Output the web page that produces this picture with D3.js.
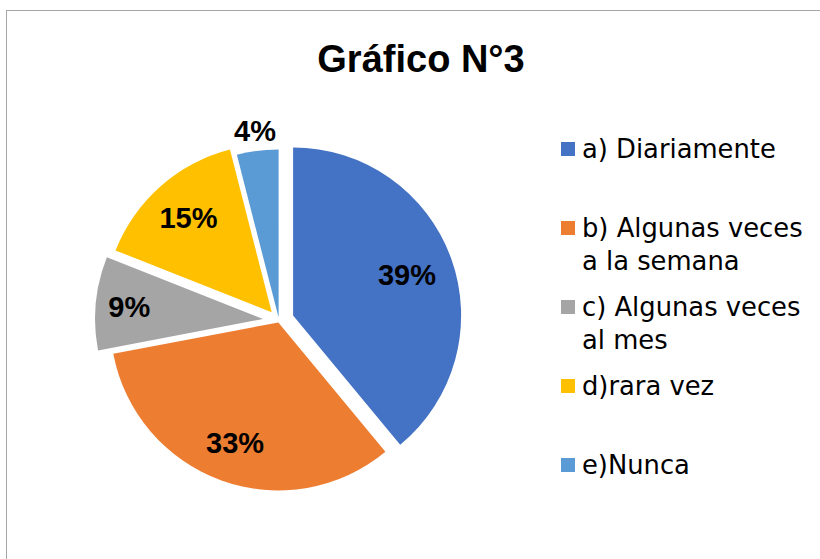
<!DOCTYPE html>
<html>
<head>
<meta charset="utf-8">
<script src="https://cdn.jsdelivr.net/npm/d3@7"></script>
<style>
  html, body { margin: 0; padding: 0; background: #fff; }
  svg { display: block; }
</style>
</head>
<body>
<svg id="chart" width="820" height="559"></svg>
<script>
// ---- data ----
const title = "Gráfico N°3";
const categories = ["a) Diariamente", "b) Algunas veces a la semana", "c) Algunas veces al mes", "d)rara vez", "e)Nunca"];
const legendLines = [["a) Diariamente"], ["b) Algunas veces", "a la semana"], ["c) Algunas veces", "al mes"], ["d)rara vez"], ["e)Nunca"]];
const values = [39, 33, 9, 15, 4];
const labels = ["39%", "33%", "9%", "15%", "4%"];

// ---- style / layout ----
const colors = ["#4472C4", "#ED7D31", "#A5A5A5", "#FFC000", "#5B9BD5"];
const explode = [15, 2, 16, 11, 3];
const labelFrac = [0.72, 0.76, 0.80, 0.75, 1.12];
const cx = 279, cy = 320.5, R = 168;

const svg = d3.select("#chart");

// frame
svg.append("rect").attr("x", 6.5).attr("y", 10.5).attr("width", 900).attr("height", 900)
  .attr("fill", "#fff").attr("stroke", "#a6a6a6").attr("stroke-width", 1);

// title
svg.append("text").attr("x", 421).attr("y", 72).attr("text-anchor", "middle")
  .attr("font-family", "'Liberation Sans', Arial, sans-serif").attr("font-weight", "bold")
  .attr("font-size", 38).attr("fill", "#000").text(title);

const pie = d3.pie().sort(null).value(d => d)(values);
const arc = d3.arc().innerRadius(0).outerRadius(R);

const g = svg.append("g").attr("transform", `translate(${cx},${cy})`);

const slices = g.selectAll("g.slice").data(pie).enter().append("g").attr("class", "slice")
  .attr("transform", (d, i) => {
    const a = (d.startAngle + d.endAngle) / 2;
    return `translate(${explode[i] * Math.sin(a)},${-explode[i] * Math.cos(a)})`;
  });

slices.append("path").attr("d", arc).attr("fill", (d, i) => colors[i]);

slices.append("text")
  .attr("x", (d, i) => { const a = (d.startAngle + d.endAngle) / 2; return R * labelFrac[i] * Math.sin(a); })
  .attr("y", (d, i) => { const a = (d.startAngle + d.endAngle) / 2; return -R * labelFrac[i] * Math.cos(a); })
  .attr("dy", "0.36em")
  .attr("text-anchor", "middle")
  .attr("font-family", "'Liberation Sans', Arial, sans-serif").attr("font-weight", "bold")
  .attr("font-size", 29).attr("fill", "#000")
  .text((d, i) => labels[i]);

// legend
const legendY = d3.scalePoint().domain(d3.range(categories.length)).range([142, 458]);
const leg = svg.append("g");
const items = leg.selectAll("g").data(categories).enter().append("g")
  .attr("transform", (d, i) => `translate(561,${legendY(i)})`);
items.append("rect").attr("width", 14).attr("height", 14).attr("fill", (d, i) => colors[i]);
items.each(function(d, i) {
  const t = d3.select(this).append("text")
    .attr("font-family", "'DejaVu Sans', sans-serif").attr("font-size", 25.8).attr("fill", "#000");
  legendLines[i].forEach((ln, k) => {
    t.append("tspan").attr("x", 21).attr("y", 15.5 + k * 33).text(ln);
  });
});
</script>
</body>
</html>
